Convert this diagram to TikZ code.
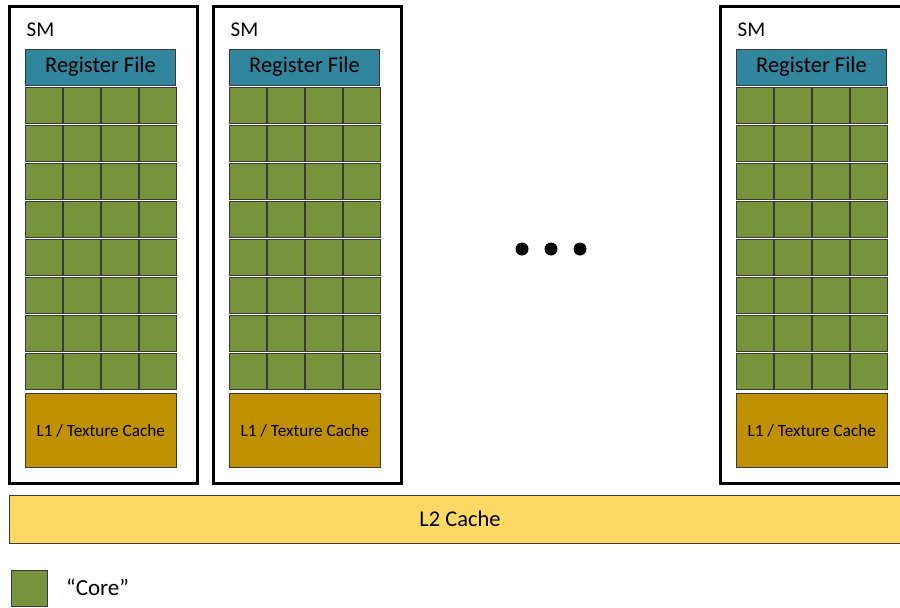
\documentclass[tikz,border=0pt]{standalone}
\usepackage{fontspec}
\setmainfont{Carlito}
\definecolor{smline}{HTML}{000000}
\definecolor{regfill}{HTML}{31859C}
\definecolor{corefill}{HTML}{77933C}
\definecolor{l1fill}{HTML}{BF9000}
\definecolor{l2fill}{HTML}{FFD966}
\definecolor{edge}{HTML}{3A3A3A}
\tikzset{
  smbox/.style={draw=smline, line width=3pt, fill=white},
  unitbox/.style={draw=edge, line width=0.8pt, inner sep=0pt, outer sep=0pt},
  regfile/.style={unitbox, fill=regfill, minimum width=150pt, minimum height=36pt, font=\fontsize{22.5}{23}\selectfont},
  corecell/.style={unitbox, fill=corefill, minimum width=36.5pt, minimum height=36.5pt},
  l1cache/.style={unitbox, fill=l1fill, minimum width=150.5pt, minimum height=74pt, font=\fontsize{17.2}{18}\selectfont},
  l2cache/.style={unitbox, fill=l2fill},
  smlabel/.style={anchor=base west, inner sep=0pt, font=\fontsize{21}{22}\selectfont},
  dot/.style={circle, fill=black, inner sep=0pt, minimum width=12.5pt, minimum height=13pt}
}
\begin{document}
\begin{tikzpicture}[x=1pt, y=-1pt]
\useasboundingbox (0,0) rectangle (900,608);
\begin{scope}
\clip (0,0) rectangle (900,608);
% streaming multiprocessors: left edge of each box
\foreach \s/\x in {1/9, 2/213, 3/720} {
  \draw[smbox] (\x,6) rectangle ++(188.5,477.5);
  \node[smlabel] (sm\s) at (\x+17.5,36.5) {SM};
  \node[regfile] (rf\s) at (\x+16.5+75,67) {Register File};
  \foreach \r in {0,...,7} {
    \foreach \k in {0,...,3} {
      \node[corecell] (c\s-\r-\k) at (\x+16.5+18.25+38*\k, 87+18.25+38*\r) {};
    }
  }
  \node[l1cache] (l1\s) at (\x+16.5+75.25,430.5) {L1 / Texture Cache};
}
% shared second-level cache
\node[l2cache, minimum width=900pt, minimum height=48pt, anchor=north west] (l2) at (9,495) {};
\node[font=\fontsize{22.5}{24}\selectfont] (l2text) at (460,519) {L2 Cache};
\end{scope}
% ellipsis between the multiprocessors
\node[dot] (d1) at (522,249) {};
\node[dot] (d2) at (551,249) {};
\node[dot] (d3) at (580,249) {};
% legend
\node[corecell, minimum width=36pt, minimum height=36pt] (legcore) at (29,588) {};
\node[anchor=west, inner sep=0pt, font=\fontsize{23}{24}\selectfont] (legtext) at (66,587) {“Core”};
\end{tikzpicture}
\end{document}
